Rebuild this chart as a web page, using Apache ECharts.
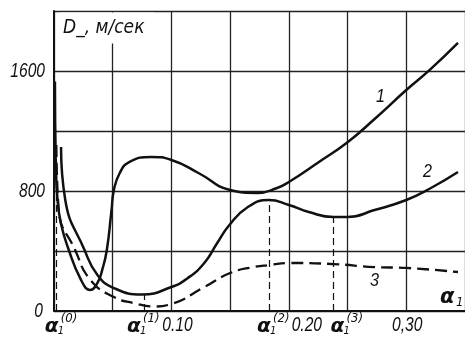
<!DOCTYPE html>
<html><head><meta charset="utf-8">
<script src="https://cdn.jsdelivr.net/npm/echarts@6/dist/echarts.min.js"></script>
<style>html,body{margin:0;padding:0;background:#fff}#c{width:465px;height:340px}</style>
</head><body><div id="c"></div>
<script>
// ---- data ----
const X_MIN = 0, X_MAX = 0.35, X_STEP = 0.05;
const Y_MIN = 0, Y_MAX = 2000, Y_STEP = 400;
const yTickLabels = [0, 800, 1600];
const xTickLabels = [{ value: 0.10, text: '0.10' }, { value: 0.20, text: '0.20' }, { value: 0.30, text: '0,30' }];
const curve1 = [[0.0008,1530],[0.0015,1000],[0.003,740],[0.006,580],[0.012,420],[0.023,207],[0.031,140],[0.037,187],[0.041,273],[0.045,407],[0.049,673],[0.051,807],[0.056,920],[0.064,993],[0.083,1027],[0.100,1007],[0.123,920],[0.150,807],[0.173,787],[0.190,820],[0.200,860],[0.225,990],[0.250,1125],[0.273,1280],[0.300,1473],[0.320,1607],[0.344,1787]];
const curve2 = [[0.006,1093],[0.0096,740],[0.026,407],[0.037,240],[0.051,153],[0.075,110],[0.100,160],[0.114,220],[0.128,320],[0.139,453],[0.149,570],[0.164,687],[0.183,740],[0.200,707],[0.217,660],[0.238,627],[0.250,627],[0.273,673],[0.300,740],[0.321,820],[0.344,927]];
const curve3 = [[0.002,1107],[0.004,673],[0.018,407],[0.031,207],[0.051,93],[0.068,53],[0.085,30],[0.100,47],[0.128,160],[0.150,253],[0.170,293],[0.184,307],[0.200,320],[0.238,313],[0.273,293],[0.300,287],[0.344,260]];
const alphaMarks = [{ n: 0, value: 0.0015, top: 1100 }, { n: 1, value: 0.0766, top: 110 }, { n: 2, value: 0.183, top: 740 }, { n: 3, value: 0.238, top: 627 }];
const curveNames = ['1', '2', '3'];
const titleText = 'D_, м/сек';

// ---- layout / style ----
const NUMFONT = "'Liberation Sans', Arial, sans-serif";
const TFONT = "'DejaVu Sans Condensed', sans-serif";
const INK = '#111';
const curveLabelAt = [[0.278, 1430], [0.318, 930], [0.273, 200]];
const xTickDx = [6, 18, 1];
const alphaDx = [-11, -17, -12, -3];

const chart = echarts.init(document.getElementById('c'));
const solid = { color: INK, width: 2.5 };
chart.setOption({
  animation: false,
  grid: { left: 54, top: 11, width: 418, height: 300 },
  xAxis: {
    type: 'value', min: X_MIN, max: X_MAX, interval: X_STEP,
    axisLine: { show: true, onZero: false, lineStyle: { color: INK, width: 2 } },
    axisTick: { show: false }, axisLabel: { show: false },
    splitLine: { show: true, lineStyle: { color: '#222', width: 1.3 } }
  },
  yAxis: {
    type: 'value', min: Y_MIN, max: Y_MAX, interval: Y_STEP,
    axisLine: { show: true, lineStyle: { color: INK, width: 2 } },
    axisTick: { show: false }, axisLabel: { show: false },
    splitLine: { show: true, lineStyle: { color: '#222', width: 1.3 } }
  },
  series: [
    { name: curveNames[0], type: 'line', data: curve1, showSymbol: false, smooth: 0.5, lineStyle: solid },
    { name: curveNames[1], type: 'line', data: curve2, showSymbol: false, smooth: 0.5, lineStyle: solid,
      markLine: { silent: true, symbol: 'none', label: { show: false },
        lineStyle: { color: INK, width: 1.2, type: [7, 4] },
        data: alphaMarks.map(m => [{ coord: [m.value, 0] }, { coord: [m.value, m.top] }]) } },
    { name: curveNames[2], type: 'line', data: curve3, showSymbol: false, smooth: 0.5,
      lineStyle: { color: INK, width: 2.3, type: [12, 6] } }
  ]
});

const px = p => chart.convertToPixel({ gridIndex: 0 }, p);
const g = [];
const o = px([X_MIN, Y_MAX]);
const base = px([X_MIN, Y_MIN]);
const numStyle = (text, align) => ({ text, fill: INK, fontFamily: NUMFONT, fontStyle: 'italic', fontSize: 20, textAlign: align, textVerticalAlign: 'middle' });
// title with white backing (breaks the grid line as in the original)
g.push({ type: 'rect', shape: { x: o[0] + 6, y: o[1] + 1.5, width: 94, height: 31 }, style: { fill: '#fff' } });
g.push({ type: 'text', x: o[0] + 9, y: o[1] + 17, style: { text: titleText, fill: INK, fontFamily: TFONT, fontStyle: 'italic', fontSize: 19, textVerticalAlign: 'middle' } });
// y tick labels
yTickLabels.forEach(v => {
  const p = px([X_MIN, v]);
  g.push({ type: 'text', x: p[0] - (v === 0 ? 11 : 9), y: p[1], scaleX: 0.78, style: numStyle(String(v), 'right') });
});
// x tick labels
xTickLabels.forEach((t, i) => {
  const p = px([t.value, Y_MIN]);
  g.push({ type: 'text', x: p[0] + xTickDx[i], y: base[1] + 14, scaleX: 0.78, style: numStyle(t.text, 'center') });
});
// alpha labels
alphaMarks.forEach((m, i) => {
  const p = px([m.value, Y_MIN]);
  const x0 = p[0] + alphaDx[i], y0 = base[1] + 16;
  g.push({ type: 'group', x: x0, y: y0, children: [
    { type: 'text', x: 0, y: 0, style: { text: 'α', fill: INK, fontFamily: 'DejaVu Sans', fontStyle: 'italic', fontWeight: 'bold', fontSize: 20, textVerticalAlign: 'middle' } },
    { type: 'text', x: 13, y: 4, style: { text: '1', fill: INK, fontFamily: TFONT, fontStyle: 'italic', fontSize: 11, textVerticalAlign: 'middle' } },
    { type: 'text', x: 16, y: -8, style: { text: '(' + m.n + ')', fill: INK, fontFamily: TFONT, fontStyle: 'italic', fontSize: 13, textVerticalAlign: 'middle' } }
  ] });
});
// axis name alpha_1
g.push({ type: 'group', x: base[0] + 386, y: base[1] - 13, children: [
  { type: 'text', x: 0, y: 0, style: { text: 'α', fill: INK, fontFamily: 'DejaVu Sans', fontStyle: 'italic', fontWeight: 'bold', fontSize: 21, textVerticalAlign: 'middle' } },
  { type: 'text', x: 16, y: 5, style: { text: '1', fill: INK, fontFamily: TFONT, fontStyle: 'italic', fontSize: 13, textVerticalAlign: 'middle' } }
] });
// curve number labels
curveLabelAt.forEach((c, i) => {
  const p = px(c);
  g.push({ type: 'text', x: p[0], y: p[1], scaleX: 0.85, style: { text: curveNames[i], fill: INK, fontFamily: NUMFONT, fontStyle: 'italic', fontSize: 19, textAlign: 'center', textVerticalAlign: 'middle' } });
});
chart.setOption({ graphic: g });
</script>
</body></html>
